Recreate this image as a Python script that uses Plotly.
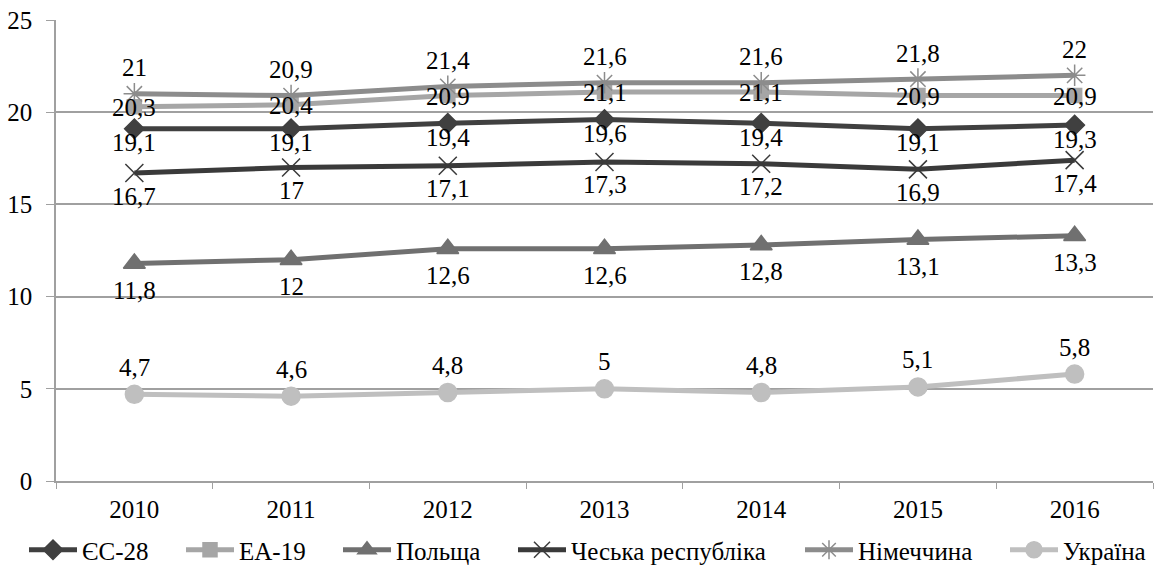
import plotly.graph_objects as go

years = ["2010", "2011", "2012", "2013", "2014", "2015", "2016"]
eu28 = [19.1, 19.1, 19.4, 19.6, 19.4, 19.1, 19.3]
ea19 = [20.3, 20.4, 20.9, 21.1, 21.1, 20.9, 20.9]
poland = [11.8, 12.0, 12.6, 12.6, 12.8, 13.1, 13.3]
czech = [16.7, 17.0, 17.1, 17.3, 17.2, 16.9, 17.4]
germany = [21.0, 20.9, 21.4, 21.6, 21.6, 21.8, 22.0]
ukraine = [4.7, 4.6, 4.8, 5.0, 4.8, 5.1, 5.8]
y_ticks = [0, 5, 10, 15, 20, 25]

FONT = "Liberation Serif, Times New Roman, serif"
FS = 25
W, H = 1159, 575
ML, MR, MT, MB = 56, 6, 20, 94
PW = W - ML - MR
PH = H - MT - MB

def fmt(v):
    return ("%g" % v).replace(".", ",")

# name, values, colour, symbol, size, label y-shift (px, up positive), legend start px
series = [
    ("ЄС-28", eu28, "#404040", "diamond", 15, -14, 24),
    ("ЕА-19", ea19, "#a6a6a6", "square", 14, -1, 181),
    ("Польща", poland, "#707070", "triangle-up", 19, -27, 338),
    ("Чеська республіка", czech, "#3a3a3a", "x-thin-open", 18, -23, 513),
    ("Німеччина", germany, "#8c8c8c", "asterisk-open", 18, 26, 800),
    ("Україна", ukraine, "#bfbfbf", "circle", 18, 27, 1005),
]

fig = go.Figure()
layout_legends = {}
for i, (name, vals, color, sym, size, dy, lx) in enumerate(series):
    key = "legend" if i == 0 else "legend%d" % (i + 1)
    fig.add_trace(go.Scatter(
        x=years, y=vals, name=name, mode="lines+markers",
        line=dict(color=color, width=5),
        marker=dict(symbol=sym, size=size, color=color,
                    line=dict(color=color, width=1.5)),
        legend=key, cliponaxis=False,
    ))
    layout_legends[key] = dict(
        orientation="h", x=(lx - ML) / PW, xanchor="left",
        y=-(550 - (MT + PH)) / PH, yanchor="middle",
        font=dict(family=FONT, size=FS, color="#000000"),
        itemwidth=48, bgcolor="rgba(0,0,0,0)", borderwidth=0,
    )
    for k, yv in enumerate(vals):
        # category index k on the category axis
        fig.add_annotation(x=k, y=yv, xref="x", yref="y", text=fmt(yv), showarrow=False,
                           yshift=dy, font=dict(family=FONT, size=FS, color="#000000"))

fig.update_layout(
    width=W, height=H,
    margin=dict(l=ML, r=MR, t=MT, b=MB, autoexpand=False),
    plot_bgcolor="white", paper_bgcolor="white",
    font=dict(family=FONT, size=FS, color="#000000"),
    showlegend=True,
    xaxis=dict(type="category", categoryarray=years, categoryorder="array",
               range=[-0.5, len(years) - 0.5], autorange=False,
               showgrid=False, showline=True, linecolor="#a0a0a0",
               linewidth=1.5, ticks="outside", ticklen=6, tickcolor="#a0a0a0",
               tickson="boundaries", ticklabelstandoff=5,
               tickfont=dict(family=FONT, size=FS), automargin=False),
    yaxis=dict(range=[0, 25], tickvals=y_ticks, showgrid=True, gridcolor="#a0a0a0",
               gridwidth=1.5, showline=True, linecolor="#a0a0a0", linewidth=1.5,
               ticks="outside", ticklen=8, tickcolor="#a0a0a0", zeroline=False,
               ticklabelstandoff=9,
               tickfont=dict(family=FONT, size=FS), automargin=False),
    **layout_legends,
)

fig.write_html("out.html", post_script="document.body.style.margin='0';",
               config={"displayModeBar": False})
